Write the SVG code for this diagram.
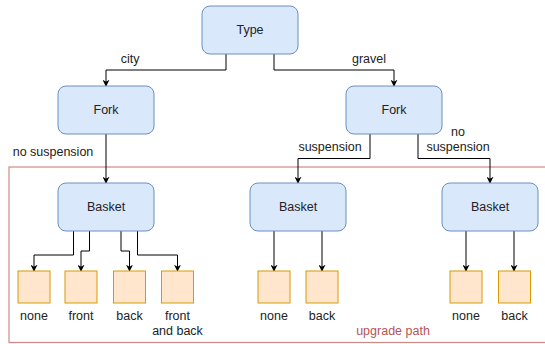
<svg xmlns="http://www.w3.org/2000/svg" width="545" height="344" viewBox="0 0 545 344">
<defs>
<style>
.n{fill:#dae8fc;stroke:#6c8ebf;stroke-width:1}
.l{fill:#ffe6cc;stroke:#d79b00;stroke-width:1}
.e{fill:none;stroke:#000;stroke-width:1}
text{font-family:"Liberation Sans",Arial,sans-serif;font-size:12.5px;fill:#222;text-anchor:middle}
</style>
<marker id="a" viewBox="0 0 10 10" refX="9" refY="5" markerWidth="7" markerHeight="7" orient="auto" markerUnits="userSpaceOnUse">
<path d="M0,0 L10,5 L0,10 L3,5 Z" fill="#000"/>
</marker>
</defs>
<rect id="upgrade" x="9" y="167" width="545" height="175.5" fill="none" stroke="#d08886" stroke-width="1.2"/>
<text x="393" y="335" style="fill:#b85450">upgrade path</text>
<g id="connectors">
<path class="e" marker-end="url(#a)" d="M226,54 V70 H106 V86"/>
<path class="e" marker-end="url(#a)" d="M274,54 V70 H394 V86"/>
<path class="e" marker-end="url(#a)" d="M106,134 V183"/>
<path class="e" marker-end="url(#a)" d="M370,134 V158.5 H298 V183"/>
<path class="e" marker-end="url(#a)" d="M418,134 V158.5 H490 V183"/>
<path class="e" marker-end="url(#a)" d="M73.5,231 V255 H34 V271"/>
<path class="e" marker-end="url(#a)" d="M89.5,231 V251 H81 V271"/>
<path class="e" marker-end="url(#a)" d="M121,231 V251 H129.5 V271"/>
<path class="e" marker-end="url(#a)" d="M137.5,231 V255 H177.5 V271"/>
<path class="e" marker-end="url(#a)" d="M274,231 V271"/>
<path class="e" marker-end="url(#a)" d="M322,231 V271"/>
<path class="e" marker-end="url(#a)" d="M466,231 V271"/>
<path class="e" marker-end="url(#a)" d="M514,231 V271"/>
<text x="130" y="63">city</text>
<text x="369" y="63">gravel</text>
<text x="53" y="156">no suspension</text>
<text x="330" y="151">suspension</text>
<text x="458" y="136">no</text>
<text x="458" y="151">suspension</text>
</g>
<g id="type"><rect class="n" x="202" y="6" width="96" height="48" rx="8"/><text x="250" y="34">Type</text></g>
<g id="fork1"><rect class="n" x="58" y="86" width="96" height="48" rx="8"/><text x="106" y="114">Fork</text></g>
<g id="fork2"><rect class="n" x="346" y="86" width="96" height="48" rx="8"/><text x="394" y="114">Fork</text></g>
<g id="basket1"><rect class="n" x="58" y="183" width="96" height="48" rx="8"/><text x="106" y="211">Basket</text></g>
<g id="basket2"><rect class="n" x="250" y="183" width="96" height="48" rx="8"/><text x="298" y="211">Basket</text></g>
<g id="basket3"><rect class="n" x="442" y="183" width="96" height="48" rx="8"/><text x="490" y="211">Basket</text></g>
<g id="b1none"><rect class="l" x="18" y="271" width="32" height="32"/><text x="34" y="320">none</text></g>
<g id="b1front"><rect class="l" x="65" y="271" width="32" height="32"/><text x="81" y="320">front</text></g>
<g id="b1back"><rect class="l" x="113.5" y="271" width="32" height="32"/><text x="129.5" y="320">back</text></g>
<g id="b1both"><rect class="l" x="161.5" y="271" width="32" height="32"/><text x="177.5" y="320">front</text><text x="177.5" y="335">and back</text></g>
<g id="b2none"><rect class="l" x="258" y="271" width="32" height="32"/><text x="274" y="320">none</text></g>
<g id="b2back"><rect class="l" x="306" y="271" width="32" height="32"/><text x="322" y="320">back</text></g>
<g id="b3none"><rect class="l" x="450" y="271" width="32" height="32"/><text x="466" y="320">none</text></g>
<g id="b3back"><rect class="l" x="498.5" y="271" width="32" height="32"/><text x="514.5" y="320">back</text></g>
</svg>
